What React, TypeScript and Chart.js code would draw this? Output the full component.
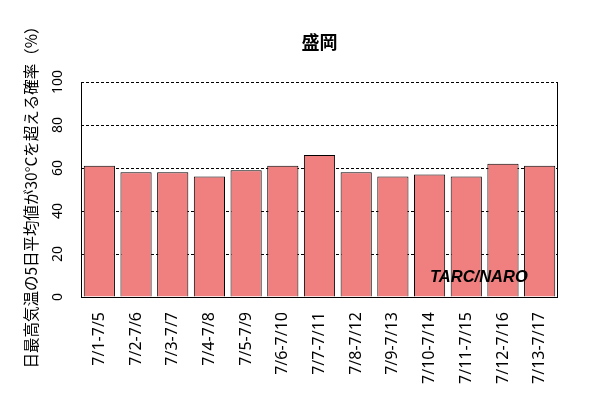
import React, { useEffect, useRef } from "react";
import { Chart, registerables } from "chart.js";

Chart.register(...registerables);

const categories = [
  "7/1-7/5", "7/2-7/6", "7/3-7/7", "7/4-7/8", "7/5-7/9", "7/6-7/10", "7/7-7/11",
  "7/8-7/12", "7/9-7/13", "7/10-7/14", "7/11-7/15", "7/12-7/16", "7/13-7/17",
];
const probabilities = [61, 58, 58, 56, 59, 61, 66, 58, 56, 57, 56, 62, 61];
const yTicks = [0, 20, 40, 60, 80, 100];
const titleText = "盛岡";
const yAxisTitle = "日最高気温の5日平均値が30°Cを超える確率（%）";
const creditText = "TARC/NARO";

const decorPlugin = {
  id: "decor",
  afterDraw(chart: any) {
    const { ctx, chartArea } = chart;
    const xs = chart.scales.x;
    const ys = chart.scales.y;
    ctx.save();
    ctx.strokeStyle = "#000";
    ctx.lineWidth = 1;
    ctx.setLineDash([]);
    ctx.beginPath();
    ctx.moveTo(chartArea.left + 0.5, chartArea.top);
    ctx.lineTo(chartArea.left + 0.5, chartArea.bottom + 0.5);
    ctx.lineTo(chartArea.right - 0.5, chartArea.bottom + 0.5);
    ctx.lineTo(chartArea.right - 0.5, chartArea.top);
    ctx.stroke();

    ctx.fillStyle = "#000";
    ctx.font = "bold 18px 'Noto Sans CJK JP'";
    ctx.textAlign = "center";
    ctx.textBaseline = "middle";
    ctx.fillText(titleText, (chartArea.left + chartArea.right) / 2, 42);

    ctx.font = "14px 'Noto Sans'";
    yTicks.forEach((v) => {
      const y = ys.getPixelForValue(v);
      ctx.save();
      ctx.translate(chartArea.left - 23, y);
      ctx.rotate(-Math.PI / 2);
      ctx.textAlign = "center";
      ctx.textBaseline = "middle";
      ctx.fillText(String(v), 0, 0);
      ctx.restore();
    });

    ctx.font = "16px 'Noto Sans'";
    categories.forEach((c, i) => {
      const x = xs.getPixelForValue(i);
      ctx.save();
      ctx.translate(x, chartArea.bottom + 15);
      ctx.rotate(-Math.PI / 2);
      ctx.textAlign = "right";
      ctx.textBaseline = "middle";
      ctx.fillText(c, 0, 0);
      ctx.restore();
    });

    ctx.font = "15.5px 'Noto Sans CJK JP'";
    ctx.save();
    ctx.translate(31, (chartArea.top + chartArea.bottom) / 2 + 4);
    ctx.rotate(-Math.PI / 2);
    ctx.textAlign = "center";
    ctx.textBaseline = "middle";
    ctx.fillText(yAxisTitle, 0, 0);
    ctx.restore();

    ctx.font = "italic bold 16.5px 'Liberation Sans'";
    ctx.textAlign = "left";
    ctx.textBaseline = "alphabetic";
    ctx.fillText(creditText, 430, 281.5);
    ctx.restore();
  },
};

export default function App() {
  const ref = useRef<HTMLCanvasElement>(null);
  useEffect(() => {
    if (!ref.current) return;
    const chart = new Chart(ref.current, {
      type: "bar",
      data: {
        labels: categories,
        datasets: [
          {
            data: probabilities,
            backgroundColor: "#F08080",
            borderColor: "#000",
            borderWidth: 1,
            barPercentage: 0.85,
            categoryPercentage: 1,
          },
        ],
      },
      options: {
        responsive: false,
        animation: false,
        devicePixelRatio: 1,
        layout: { padding: { left: 81, top: 82, right: 42, bottom: 103 } },
        plugins: { legend: { display: false }, tooltip: { enabled: false }, title: { display: false } },
        scales: {
          x: {
            ticks: { display: false },
            grid: { display: false },
            border: { display: false },
            afterFit: (s: any) => { s.height = 0; },
          },
          y: {
            min: 0,
            max: 100,
            ticks: { display: false, stepSize: 20 },
            grid: { color: "#000", lineWidth: 1, drawTicks: false },
            border: { display: false, dash: [3, 2] },
            afterFit: (s: any) => { s.width = 0; },
          },
        },
      },
      plugins: [decorPlugin],
    });
    return () => chart.destroy();
  }, []);
  return (
    <div style={{ position: "absolute", left: 0, top: 0, width: 600, height: 400, background: "#fff" }}>
      <canvas ref={ref} width={600} height={400} />
    </div>
  );
}
